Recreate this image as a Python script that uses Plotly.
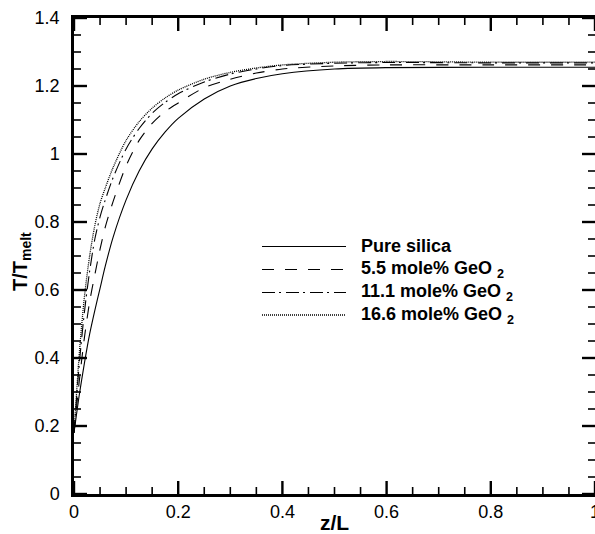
import plotly.graph_objects as go

# Axial position (normalised) and temperature (normalised by melt temperature)
z = [0, 0.01, 0.02, 0.03, 0.04, 0.05, 0.06, 0.075, 0.1, 0.125, 0.15, 0.175, 0.2,
     0.25, 0.3, 0.35, 0.4, 0.5, 0.6, 0.8, 1.0]

t_pure = [0.18, 0.29, 0.385, 0.47, 0.54, 0.605, 0.67, 0.755, 0.865, 0.95, 1.015, 1.065, 1.105,
          1.162, 1.2, 1.222, 1.236, 1.25, 1.254, 1.255, 1.255]
t_55 = [0.18, 0.33, 0.46, 0.565, 0.645, 0.72, 0.785, 0.86, 0.965, 1.04, 1.09, 1.125, 1.15,
        1.195, 1.22, 1.238, 1.25, 1.259, 1.262, 1.262, 1.262]
t_111 = [0.18, 0.38, 0.535, 0.655, 0.75, 0.815, 0.865, 0.93, 1.015, 1.075, 1.12, 1.152, 1.177,
         1.212, 1.235, 1.25, 1.26, 1.267, 1.269, 1.268, 1.268]
t_166 = [0.18, 0.41, 0.58, 0.70, 0.79, 0.855, 0.90, 0.96, 1.04, 1.095, 1.135, 1.165, 1.188,
         1.22, 1.24, 1.253, 1.262, 1.27, 1.272, 1.27, 1.27]

names = ["Pure silica", "5.5 mole% GeO<sub>2</sub>", "11.1 mole% GeO<sub>2</sub>", "16.6 mole% GeO<sub>2</sub>"]
series = [t_pure, t_55, t_111, t_166]
dashes = ["solid", "12px,11px", "13px,4px,2px,5px", "1px,1px"]
widths = [1.1, 1.1, 1.1, 1.3]

x_range = [0, 1]
y_range = [0, 1.4]
x_ticks = [0, 0.2, 0.4, 0.6, 0.8, 1.0]
x_ticktext = ["0", "0.2", "0.4", "0.6", "0.8", "1"]
y_ticks = [0, 0.2, 0.4, 0.6, 0.8, 1.0, 1.2, 1.4]
y_ticktext = ["0", "0.2", "0.4", "0.6", "0.8", "1", "1.2", "1.4"]
x_minor = [round(0.05 * i, 2) for i in range(21) if i % 4]
y_minor = [round(0.05 * i, 2) for i in range(29) if i % 4]

FONT = "Liberation Sans, Arial, sans-serif"

# Plot-area geometry in pixels (used for tick lengths and the legend block)
L_PLOT, W_PLOT, B_PLOT, H_PLOT = 74, 521, 494, 476
def px_x(p):
    return (p - L_PLOT) / W_PLOT
def px_y(p):
    return (B_PLOT - p) / H_PLOT

fig = go.Figure()
for name, t, d, w in zip(names, series, dashes, widths):
    fig.add_trace(go.Scatter(
        x=z, y=t, mode="lines", name=name,
        line=dict(color="black", width=w, dash=d, shape="spline", smoothing=0.8),
        showlegend=False,
    ))

# Inward-pointing tick marks on all four sides of the frame
def add_xticks(vals, length, width):
    ly = length / H_PLOT
    for v in vals:
        for y0, y1 in [(0, ly), (1 - ly, 1)]:
            fig.add_shape(type="line", xref="x", yref="paper", x0=v, x1=v, y0=y0, y1=y1,
                          line=dict(color="#000000", width=width), layer="above")

def add_yticks(vals, length, width):
    lx = length / W_PLOT
    for v in vals:
        for x0, x1 in [(0, lx), (1 - lx, 1)]:
            fig.add_shape(type="line", xref="paper", yref="y", x0=x0, x1=x1, y0=v, y1=v,
                          line=dict(color="#000000", width=width), layer="above")

add_xticks(x_ticks, 13, 2.4)
add_xticks(x_minor, 7, 1.6)
add_yticks(y_ticks, 13, 2.4)
add_yticks(y_minor, 7, 1.6)

# Legend block inside the plot area
row_y = [246.5, 269.5, 292.5, 315]
for name, d, w, ry in zip(names, dashes, widths, row_y):
    fig.add_shape(type="line", xref="paper", yref="paper",
                  x0=px_x(262), x1=px_x(346), y0=px_y(ry), y1=px_y(ry),
                  line=dict(color="black", width=w, dash=d))
    fig.add_annotation(xref="paper", yref="paper", x=px_x(359), y=px_y(ry),
                       xanchor="left", yanchor="middle", showarrow=False,
                       text="<b>" + name.replace("<sub>", " <sub>") + "</b>",
                       font=dict(family=FONT, size=18, color="black"))

# Y-axis title, placed as a rotated annotation
fig.add_annotation(xref="paper", yref="paper", x=px_x(21), y=px_y(262),
                   xanchor="center", yanchor="middle", showarrow=False, textangle=-90,
                   text="<b>T/T<sub>melt</sub></b>",
                   font=dict(family=FONT, size=20, color="black"))

main_style = dict(showline=True, linewidth=2.5, linecolor="black", mirror=True,
                  ticks="", showgrid=False, zeroline=False, automargin=False,
                  tickmode="array", ticklabeloverflow="allow",
                  tickfont=dict(family=FONT, size=18, color="black"))

fig.update_layout(
    width=595, height=534,
    margin=dict(l=74, r=0, t=18, b=40),
    paper_bgcolor="white", plot_bgcolor="white",
    xaxis=dict(range=x_range, tickvals=x_ticks, ticktext=x_ticktext,
               title=dict(text="<b>z/L</b>", font=dict(family=FONT, size=21, color="black"), standoff=2),
               **main_style),
    yaxis=dict(range=y_range, tickvals=y_ticks, ticktext=y_ticktext,
               ticklabelstandoff=8, **main_style),
)

fig.write_html("out.html")
